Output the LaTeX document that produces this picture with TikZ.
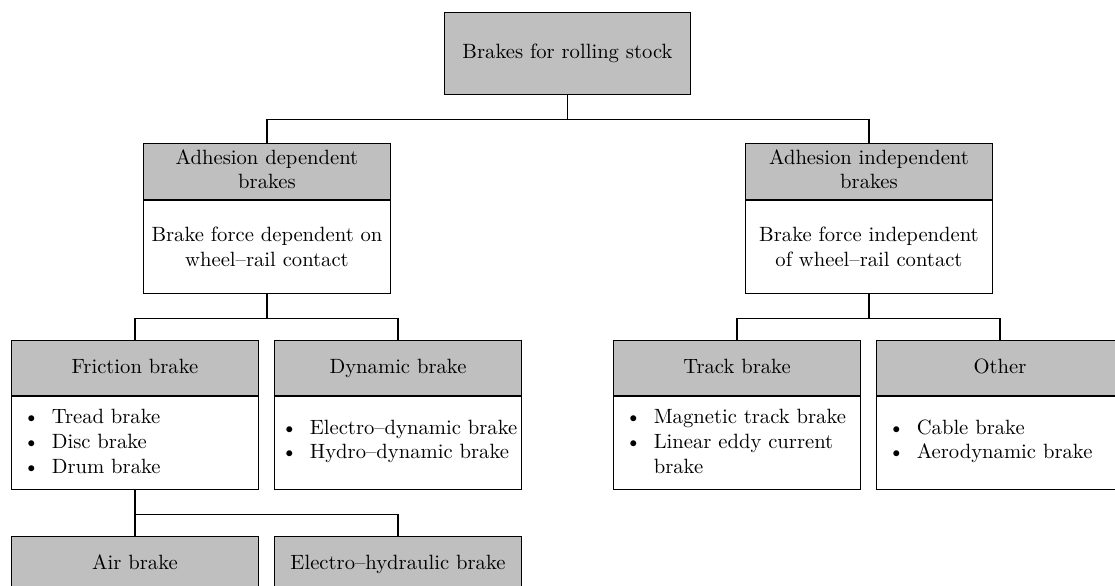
\documentclass[tikz,border=0pt]{standalone}
\usepackage{enumitem}
\usetikzlibrary{positioning}
\tikzset{
  head/.style={draw,semithick,fill=gray!50,text width=112.6pt,inner xsep=3.33pt,inner ysep=1.5pt,minimum height=26.6pt,align=center,
    execute at begin node=\strut,execute at end node=\strut},
  body/.style={draw,semithick,fill=white,text width=112.6pt,inner sep=3.33pt,minimum height=45pt,align=center},
  listbody/.style={body,align=left},
  rootbox/.style={head,minimum height=39.7pt}
}
\newcommand{\brakelist}[2][16pt]{\vspace*{-6.8pt}\begin{itemize}[nosep,leftmargin=#1,labelsep=6pt]#2\end{itemize}}

\begin{document}
\begin{tikzpicture}[x=0.4843pt,y=0.4843pt,semithick]
\useasboundingbox (0,0) rectangle (1115,-586);
\clip (0,0) rectangle (1115,-586);
% root
\node [rootbox, anchor=north] (root) at (567.5,-12) {Brakes for rolling stock};
% second level
\node [head, anchor=north] (adhdep) at (267,-143) {Adhesion dependent\\brakes};
\node [body, below=0pt of adhdep] (adhdepb) {Brake force dependent on\\wheel--rail contact};
\node [head, anchor=north] (adhind) at (869,-143) {Adhesion independent\\brakes};
\node [body, below=0pt of adhind] (adhindb) {Brake force independent\\of wheel--rail contact};
% third level
\node [head, anchor=north] (fric) at (135,-340) {Friction brake};
\node [listbody, below=0pt of fric] (fricb) {\brakelist{\item Tread brake \item Disc brake \item Drum brake}};
\node [head, anchor=north] (dyn) at (398,-340) {Dynamic brake};
\node [listbody, below=0pt of dyn] (dynb) {\brakelist[13.6pt]{\item \makebox[\linewidth][l]{Electro--dynamic brake} \item Hydro--dynamic brake}};
\node [head, anchor=north] (track) at (737,-340) {Track brake};
\node [listbody, below=0pt of track] (trackb) {\brakelist{\item Magnetic track brake \item Linear eddy current brake}};
\node [head, anchor=north] (other) at (1000,-340) {Other};
\node [listbody, below=0pt of other] (otherb) {\brakelist{\item Cable brake \item Aerodynamic brake}};
% fourth level
\node [head, anchor=north] (air) at (135,-536) {Air brake};
\node [head, anchor=north] (elhyd) at (398,-536) {Electro--hydraulic brake};
% connectors
\draw (root.south) -- ++(0,-24.5) -| (adhdep.north);
\draw (root.south) -- ++(0,-24.5) -| (adhind.north);
\draw (adhdepb.south) -- ++(0,-24.5) -| (fric.north);
\draw (adhdepb.south) -- ++(0,-24.5) -| (dyn.north);
\draw (adhindb.south) -- ++(0,-24.5) -| (track.north);
\draw (adhindb.south) -- ++(0,-24.5) -| (other.north);
\draw (fricb.south) -- ++(0,-24) -| (air.north);
\draw (fricb.south) -- ++(0,-24) -| (elhyd.north);
\end{tikzpicture}
\end{document}
